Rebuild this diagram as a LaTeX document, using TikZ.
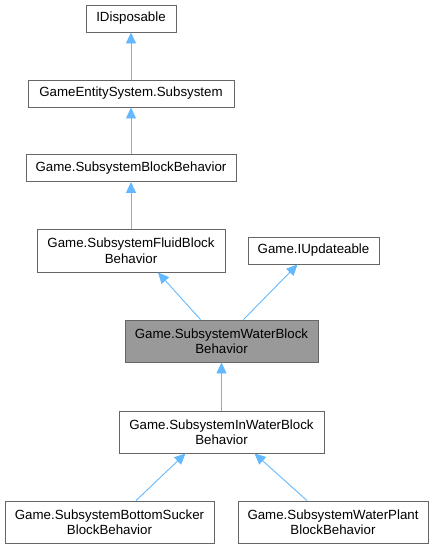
\documentclass[tikz,border=0pt]{standalone}
\usepackage{fontspec}
\setmainfont{Liberation Sans}
\usetikzlibrary{arrows.meta}

\definecolor{edgeblue}{HTML}{63B8FF}
\definecolor{boxgray}{HTML}{666666}
\definecolor{curgray}{HTML}{999999}

\tikzset{
  cls/.style={draw=boxgray, line width=0.9pt, fill=white, inner sep=0pt,
    align=center, font=\fontsize{13.3}{15.5}\selectfont},
  cur/.style={cls, fill=curgray},
  inherit/.style={draw=edgeblue, line width=0.9pt,
    -{Triangle[length=11pt,width=10pt]}},
}

\begin{document}
\begin{tikzpicture}[x=1pt, y=-1pt]
    \useasboundingbox (0,0) rectangle (435,549);

    \node[cls, minimum width=90pt, minimum height=27pt] (disp) at (131, 18.5) {IDisposable};
    \node[cls, minimum width=206pt, minimum height=27pt] (subsys) at (131, 93.5) {GameEntitySystem.Subsystem};
    \node[cls, minimum width=210pt, minimum height=27pt] (blockbeh) at (131, 168) {Game.SubsystemBlockBehavior};
    \node[cls, minimum width=188pt, minimum height=43pt] (fluid) at (131, 250.5) {Game.SubsystemFluidBlock\\Behavior};
    \node[cls, minimum width=131pt, minimum height=27pt] (upd) at (313.5, 250.5) {Game.IUpdateable};
    \node[cur, minimum width=193pt, minimum height=42pt] (water) at (221.5, 341) {Game.SubsystemWaterBlock\\Behavior};
    \node[cls, minimum width=205pt, minimum height=42pt] (inwater) at (221.5, 432) {Game.SubsystemInWaterBlock\\Behavior};
    \node[cls, minimum width=209pt, minimum height=42pt] (sucker) at (109.5, 522) {Game.SubsystemBottomSucker\\BlockBehavior};
    \node[cls, minimum width=190pt, minimum height=42pt] (plant) at (333, 522) {Game.SubsystemWaterPlant\\BlockBehavior};

    \draw[inherit] (subsys.north) -- (disp.south);
    \draw[inherit] (blockbeh.north) -- (subsys.south);
    \draw[inherit] (fluid.north) -- (blockbeh.south);
    \draw[inherit] ([xshift=-21pt]water.north) -- ([xshift=27pt]fluid.south);
    \draw[inherit] ([xshift=22pt]water.north) -- ([xshift=-16pt]upd.south);
    \draw[inherit] (inwater.north) -- (water.south);
    \draw[inherit] ([xshift=26.5pt]sucker.north) -- ([xshift=-36pt]inwater.south);
    \draw[inherit] ([xshift=-26pt]plant.north) -- ([xshift=33pt]inwater.south);
\end{tikzpicture}
\end{document}
